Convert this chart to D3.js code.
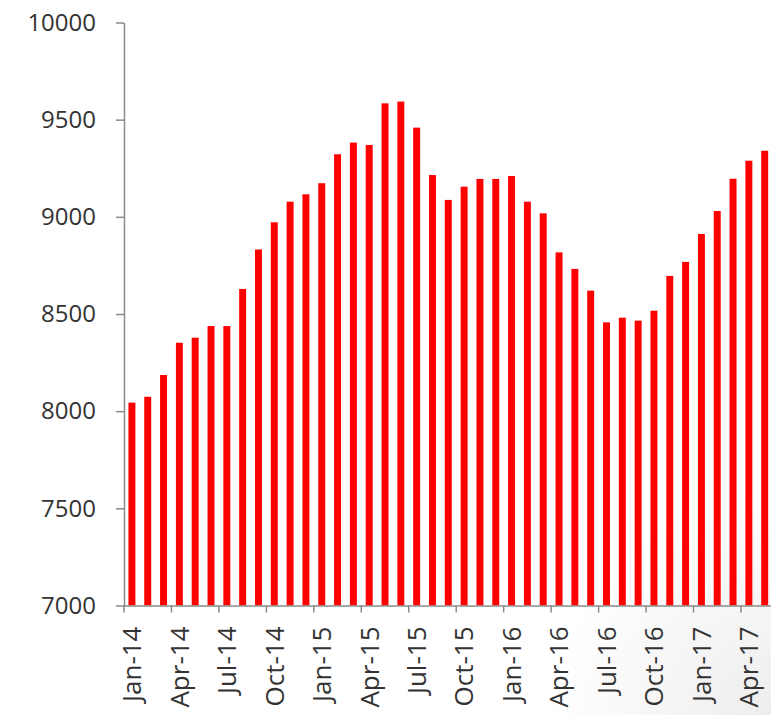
<!DOCTYPE html>
<html>
<head>
<meta charset="utf-8">
<script src="https://cdn.jsdelivr.net/npm/d3@7"></script>
<style>
body{margin:0;background:#fff;}
text{font-family:"Open Sans",sans-serif;}
</style>
</head>
<body>
<div id="chart"></div>
<script>
// monthly series, Jan-14 .. May-17

var months=["Jan-14","Feb-14","Mar-14","Apr-14","May-14","Jun-14","Jul-14","Aug-14","Sep-14","Oct-14","Nov-14","Dec-14",
	"Jan-15","Feb-15","Mar-15","Apr-15","May-15","Jun-15","Jul-15","Aug-15","Sep-15","Oct-15","Nov-15","Dec-15",
	"Jan-16","Feb-16","Mar-16","Apr-16","May-16","Jun-16","Jul-16","Aug-16","Sep-16","Oct-16","Nov-16","Dec-16",
	"Jan-17","Feb-17","Mar-17","Apr-17","May-17"];
var values=[8044,8074,8186,8352,8378,8438,8438,8629,8832,8972,9078,9116,
	9173,9322,9382,9370,9584,9593,9459,9215,9087,9155,9195,9195,
	9210,9078,9018,8817,8732,8620,8457,8481,8466,8517,8696,8768,
	8912,9030,9196,9289,9340];
var yTicks=[7000,7500,8000,8500,9000,9500,10000];
var xLabels=["Jan-14","Apr-14","Jul-14","Oct-14","Jan-15","Apr-15","Jul-15","Oct-15","Jan-16","Apr-16","Jul-16","Oct-16","Jan-17","Apr-17"];

var w=771,h=715;
var mLeft=124,mRight=772.6,mTop=22.5,mBottom=605.5;

var svg=d3.select("#chart").append("svg").attr("width",w).attr("height",h);

// faint grey shading in the lower right corner
var grad=svg.append("defs").append("radialGradient").attr("id","corner")
	.attr("gradientUnits","userSpaceOnUse").attr("cx",w).attr("cy",h).attr("r",220);
grad.append("stop").attr("offset","0%").attr("stop-color","#ededed");
grad.append("stop").attr("offset","100%").attr("stop-color","#ffffff");
svg.append("rect").attr("width",w).attr("height",h).attr("fill","url(#corner)");

var x=d3.scaleBand().domain(months).range([mLeft,mRight]).paddingInner(0.56).paddingOuter(0.28);
var y=d3.scaleLinear().domain([7000,10000]).range([mBottom,mTop]);

// bars

svg.selectAll(".bar").data(values).enter().append("rect")
	.attr("x",function(d,i) {return x(months[i]);})
	.attr("width",x.bandwidth())
	.attr("y",function(d) {return y(d);})
	.attr("height",function(d) {return mBottom-y(d);})
	.style("fill","#ff0000");

// axes

var gy=svg.append("g").attr("transform","translate("+mLeft+",0)")
	.call(d3.axisLeft(y).tickValues(yTicks).tickFormat(d3.format("d")).tickSize(8).tickSizeOuter(0).tickPadding(20));
gy.select(".domain").style("stroke","#8a8a8a").style("stroke-width",1.5);
gy.selectAll(".tick line").style("stroke","#8a8a8a").style("stroke-width",1.5);
gy.selectAll("text").style("font-size","24px").style("fill","#333");

var gx=svg.append("g").attr("transform","translate(0,"+mBottom+")")
	.call(d3.axisBottom(x).tickValues(xLabels).tickSize(7).tickSizeOuter(0));
gx.select(".domain").style("stroke","#8a8a8a").style("stroke-width",1.5);
gx.selectAll(".tick line").attr("x1",-x.step()/2).attr("x2",-x.step()/2)
	.style("stroke","#8a8a8a").style("stroke-width",1.5);
gx.selectAll("text")
	.attr("transform","rotate(-90)")
	.attr("x",-21).attr("y",0).attr("dy","0.36em")
	.style("text-anchor","end")
	.style("font-size","26px").style("fill","#333");
</script>
</body>
</html>
